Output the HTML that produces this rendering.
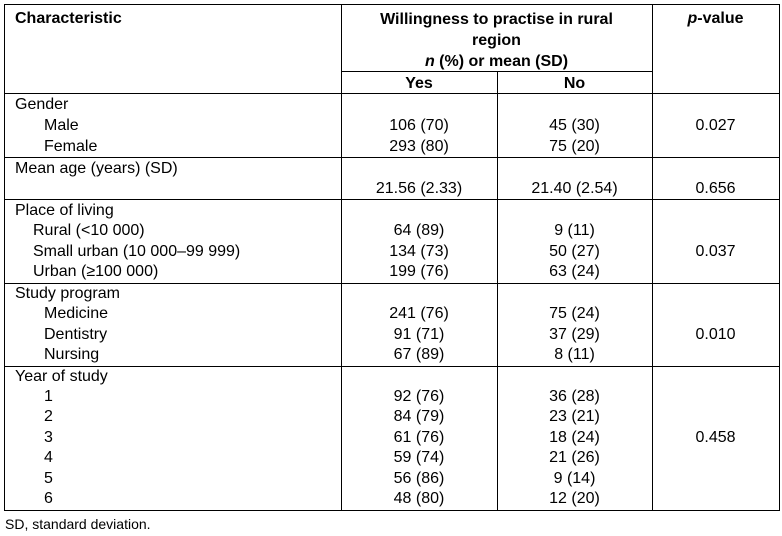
<!DOCTYPE html>
<html><head><meta charset="utf-8"><style>
body{margin:0;width:782px;height:536px;background:#fff;position:relative;font-family:"Liberation Sans",Arial,sans-serif;font-size:16px;color:#000;overflow:hidden}
.h{position:absolute;height:1px;background:#000}
.v{position:absolute;width:1px;background:#000}
.t{position:absolute;line-height:20px;white-space:nowrap;transform:translateY(-8px)}
.c{text-align:center}
.b{font-weight:bold}
</style></head><body>
<div class="h" style="left:4px;width:776px;top:4px"></div>
<div class="h" style="left:341px;width:311px;top:71px"></div>
<div class="h" style="left:4px;width:776px;top:93px"></div>
<div class="h" style="left:4px;width:776px;top:157px"></div>
<div class="h" style="left:4px;width:776px;top:199px"></div>
<div class="h" style="left:4px;width:776px;top:283px"></div>
<div class="h" style="left:4px;width:776px;top:366px"></div>
<div class="h" style="left:4px;width:776px;top:510px"></div>
<div class="v" style="left:4px;top:4px;height:507px"></div>
<div class="v" style="left:341px;top:4px;height:507px"></div>
<div class="v" style="left:497px;top:71px;height:440px"></div>
<div class="v" style="left:652px;top:4px;height:507px"></div>
<div class="v" style="left:779px;top:4px;height:507px"></div>

<div class="t b" style="left:15px;top:17px">Characteristic</div>
<div class="t b c" style="left:341px;width:311px;top:18px">Willingness to practise in rural</div>
<div class="t b c" style="left:341px;width:311px;top:39px">region</div>
<div class="t b c" style="left:341px;width:311px;top:60px"><i>n</i> (%) or mean (SD)</div>
<div class="t b c" style="left:341px;width:156px;top:82px">Yes</div>
<div class="t b c" style="left:497px;width:155px;top:82px">No</div>
<div class="t b c" style="left:652px;width:127px;top:17px"><i>p</i>-value</div>

<div class="t" style="left:15px;top:103px">Gender</div>
<div class="t" style="left:44px;top:124px">Male</div>
<div class="t" style="left:44px;top:145px">Female</div>
<div class="t c" style="left:341px;width:156px;top:124px">106 (70)</div>
<div class="t c" style="left:341px;width:156px;top:145px">293 (80)</div>
<div class="t c" style="left:497px;width:155px;top:124px">45 (30)</div>
<div class="t c" style="left:497px;width:155px;top:145px">75 (20)</div>
<div class="t c" style="left:652px;width:127px;top:124px">0.027</div>

<div class="t" style="left:15px;top:167px">Mean age (years) (SD)</div>
<div class="t c" style="left:341px;width:156px;top:187px">21.56 (2.33)</div>
<div class="t c" style="left:497px;width:155px;top:187px">21.40 (2.54)</div>
<div class="t c" style="left:652px;width:127px;top:187px">0.656</div>

<div class="t" style="left:15px;top:209px">Place of living</div>
<div class="t" style="left:33px;top:229px">Rural (&lt;10 000)</div>
<div class="t" style="left:33px;top:250px">Small urban (10 000–99 999)</div>
<div class="t" style="left:33px;top:270px">Urban (≥100 000)</div>
<div class="t c" style="left:341px;width:156px;top:229px">64 (89)</div>
<div class="t c" style="left:341px;width:156px;top:250px">134 (73)</div>
<div class="t c" style="left:341px;width:156px;top:270px">199 (76)</div>
<div class="t c" style="left:497px;width:155px;top:229px">9 (11)</div>
<div class="t c" style="left:497px;width:155px;top:250px">50 (27)</div>
<div class="t c" style="left:497px;width:155px;top:270px">63 (24)</div>
<div class="t c" style="left:652px;width:127px;top:250px">0.037</div>

<div class="t" style="left:15px;top:292px">Study program</div>
<div class="t" style="left:44px;top:312px">Medicine</div>
<div class="t" style="left:44px;top:333px">Dentistry</div>
<div class="t" style="left:44px;top:353px">Nursing</div>
<div class="t c" style="left:341px;width:156px;top:312px">241 (76)</div>
<div class="t c" style="left:341px;width:156px;top:333px">91 (71)</div>
<div class="t c" style="left:341px;width:156px;top:353px">67 (89)</div>
<div class="t c" style="left:497px;width:155px;top:312px">75 (24)</div>
<div class="t c" style="left:497px;width:155px;top:333px">37 (29)</div>
<div class="t c" style="left:497px;width:155px;top:353px">8 (11)</div>
<div class="t c" style="left:652px;width:127px;top:333px">0.010</div>

<div class="t" style="left:15px;top:375px">Year of study</div>
<div class="t" style="left:44px;top:395px">1</div>
<div class="t" style="left:44px;top:415px">2</div>
<div class="t" style="left:44px;top:436px">3</div>
<div class="t" style="left:44px;top:456px">4</div>
<div class="t" style="left:44px;top:477px">5</div>
<div class="t" style="left:44px;top:497px">6</div>
<div class="t c" style="left:341px;width:156px;top:395px">92 (76)</div>
<div class="t c" style="left:341px;width:156px;top:415px">84 (79)</div>
<div class="t c" style="left:341px;width:156px;top:436px">61 (76)</div>
<div class="t c" style="left:341px;width:156px;top:456px">59 (74)</div>
<div class="t c" style="left:341px;width:156px;top:477px">56 (86)</div>
<div class="t c" style="left:341px;width:156px;top:497px">48 (80)</div>
<div class="t c" style="left:497px;width:155px;top:395px">36 (28)</div>
<div class="t c" style="left:497px;width:155px;top:415px">23 (21)</div>
<div class="t c" style="left:497px;width:155px;top:436px">18 (24)</div>
<div class="t c" style="left:497px;width:155px;top:456px">21 (26)</div>
<div class="t c" style="left:497px;width:155px;top:477px">9 (14)</div>
<div class="t c" style="left:497px;width:155px;top:497px">12 (20)</div>
<div class="t c" style="left:652px;width:127px;top:436px">0.458</div>

<div class="t" style="left:5px;top:522px;font-size:14px">SD, standard deviation.</div>
</body></html>
